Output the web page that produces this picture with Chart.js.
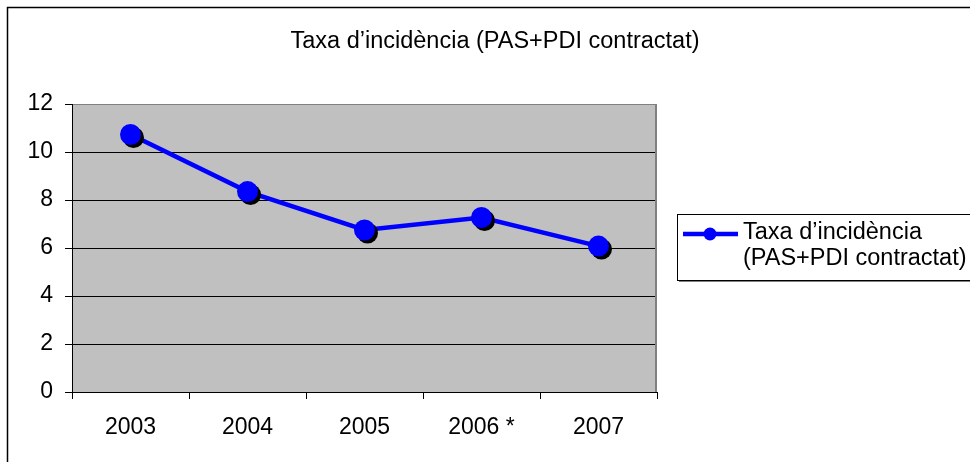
<!DOCTYPE html>
<html>
<head>
<meta charset="utf-8">
<script src="https://cdn.jsdelivr.net/npm/chart.js@4.4.1/dist/chart.umd.min.js"></script>
<style>
  html, body { margin: 0; padding: 0; background: #fff; }
  #wrap { width: 970px; height: 462px; }
</style>
</head>
<body>
<div id="wrap"><canvas id="c" width="970" height="462"></canvas></div>
<script>
// Data
const years = ['2003', '2004', '2005', '2006 *', '2007'];
const rates = [10.73, 8.35, 6.75, 7.27, 6.08];
const yTicks = [0, 2, 4, 6, 8, 10, 12];
const chartTitle = 'Taxa d’incidència (PAS+PDI contractat)';
const legendLines = ['Taxa d’incidència', '(PAS+PDI contractat)'];

const FONT = '"Liberation Sans", Arial, sans-serif';
const TICK_SIZE = 23;
const TEXT_SIZE = 23.5;
const BLUE = '#0000ff';

Chart.defaults.font.family = FONT;
Chart.defaults.font.size = TICK_SIZE;
Chart.defaults.color = '#000';

// Background, outer frame and grey plot area
const framePlugin = {
  id: 'frame',
  beforeDraw(chart) {
    const { ctx, chartArea: a } = chart;
    ctx.save();
    ctx.fillStyle = '#fff';
    ctx.fillRect(0, 0, chart.width, chart.height);
    ctx.strokeStyle = '#000';
    ctx.lineWidth = 1.5;
    ctx.strokeRect(7.5, 7.5, 1000, 1000);
    ctx.fillStyle = '#c0c0c0';
    ctx.fillRect(a.left, a.top, a.right - a.left, a.bottom - a.top);
    ctx.restore();
  },
  beforeDatasetsDraw(chart) {
    // grey right edge of the plot area
    const { ctx, chartArea: a } = chart;
    ctx.save();
    ctx.strokeStyle = '#808080';
    ctx.lineWidth = 2;
    ctx.beginPath();
    ctx.moveTo(a.right - 1, a.top);
    ctx.lineTo(a.right - 1, a.bottom);
    ctx.stroke();
    ctx.restore();
  }
};

// Markers with a hard black drop shadow
const markerPlugin = {
  id: 'markers',
  afterDatasetsDraw(chart) {
    const { ctx } = chart;
    const meta = chart.getDatasetMeta(0);
    const r = 10.5;
    ctx.save();
    meta.data.forEach(pt => {
      ctx.fillStyle = '#000';
      ctx.beginPath();
      ctx.arc(pt.x + 3, pt.y + 3, r, 0, Math.PI * 2);
      ctx.fill();
    });
    meta.data.forEach(pt => {
      ctx.fillStyle = BLUE;
      ctx.beginPath();
      ctx.arc(pt.x, pt.y, r, 0, Math.PI * 2);
      ctx.fill();
    });
    ctx.restore();
  }
};

// Title and the boxed legend on the right
const textPlugin = {
  id: 'texts',
  afterDraw(chart) {
    const { ctx } = chart;
    ctx.save();
    ctx.fillStyle = '#000';
    ctx.font = TEXT_SIZE + 'px ' + FONT;
    ctx.textAlign = 'center';
    ctx.textBaseline = 'middle';
    ctx.fillText(chartTitle, 495, 42);

    // legend box
    const bx = 677, by = 214, bw = 400, bh = 66;
    ctx.fillStyle = '#808080';
    ctx.fillRect(bx + 2, by + bh, bw, 2);
    ctx.fillStyle = '#fff';
    ctx.fillRect(bx, by, bw, bh);
    ctx.strokeStyle = '#000';
    ctx.lineWidth = 1;
    ctx.strokeRect(bx + 0.5, by + 0.5, bw, bh);

    // legend symbol
    const sy = 234;
    ctx.strokeStyle = BLUE;
    ctx.lineWidth = 4.5;
    ctx.beginPath();
    ctx.moveTo(683, sy);
    ctx.lineTo(738, sy);
    ctx.stroke();
    ctx.fillStyle = BLUE;
    ctx.beginPath();
    ctx.arc(710, sy, 6.5, 0, Math.PI * 2);
    ctx.fill();

    ctx.fillStyle = '#000';
    ctx.textAlign = 'left';
    legendLines.forEach((line, i) => {
      ctx.fillText(line, 743, 233 + i * 26);
    });
    ctx.restore();
  }
};

new Chart(document.getElementById('c'), {
  type: 'line',
  data: {
    labels: years,
    datasets: [{
      label: legendLines.join(' '),
      data: rates,
      borderColor: BLUE,
      borderWidth: 4.5,
      pointRadius: 0,
      tension: 0,
      clip: false
    }]
  },
  options: {
    responsive: false,
    animation: false,
    devicePixelRatio: 1,
    layout: { padding: { top: 104, right: 313, left: 0, bottom: 0 } },
    plugins: {
      legend: { display: false },
      title: { display: false },
      tooltip: { enabled: false }
    },
    scales: {
      x: {
        offset: true,
        afterFit(scale) { scale.height = 70; },
        grid: {
          offset: true,
          drawOnChartArea: false,
          tickLength: 7,
          color: '#000'
        },
        border: { color: '#000', width: 1 },
        ticks: { padding: 15, maxRotation: 0, font: { size: TICK_SIZE } }
      },
      y: {
        min: 0,
        max: 12,
        afterFit(scale) { scale.width = 72; },
        afterBuildTicks(scale) { scale.ticks = yTicks.map(v => ({ value: v })); },
        grid: {
          tickLength: 7,
          color: ctx => (ctx.tick && ctx.tick.value === 12 ? '#808080' : '#000'),
          tickColor: '#000'
        },
        border: { color: '#000', width: 1 },
        ticks: { padding: 12, font: { size: TICK_SIZE } }
      }
    }
  },
  plugins: [framePlugin, markerPlugin, textPlugin]
});
</script>
</body>
</html>
